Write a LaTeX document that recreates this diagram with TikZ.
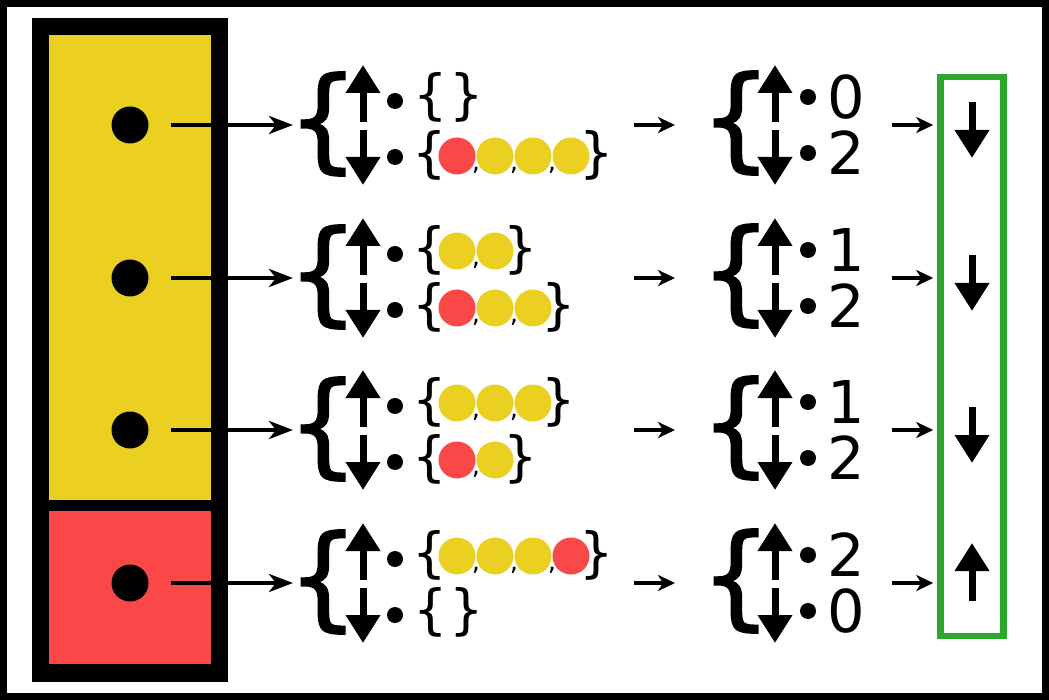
\documentclass[tikz,border=0pt]{standalone}
\usepackage{fontspec}
\setmainfont{DejaVu Sans}
\newfontfamily\bracefont[FakeBold=1.2]{DejaVu Sans}
\usetikzlibrary{arrows.meta}
\definecolor{cyel}{HTML}{EBD022}
\definecolor{cred}{HTML}{FA4848}
\definecolor{cgrn}{HTML}{2BA82B}
\tikzset{
 dot/.style={circle,fill=black,inner sep=0,minimum size=37pt},
 bul/.style={circle,fill=black,inner sep=0,minimum size=16pt},
 ball/.style={circle,fill=#1,inner sep=0,minimum size=37pt},
 brc/.style={inner sep=0,font=\fontsize{54}{54}\selectfont},
 bigbrc/.style={inner sep=0,font=\bracefont\fontsize{113}{113}\selectfont},
 digit/.style={inner sep=0,anchor=west,font=\fontsize{59}{59}\selectfont},
 comma/.style={inner sep=0,anchor=north,font=\fontsize{26}{26}\selectfont},
 longarr/.style={line width=4pt,-{Stealth[length=24pt,width=18pt,inset=7pt]}},
 shortarr/.style={line width=3.3pt,-{Stealth[length=17pt,width=16pt,inset=5pt]}},
 bigarr/.style={line width=7pt,-{Triangle[length=28pt,width=33pt]}},
 gbox/.style={draw=cgrn,line width=6.5pt,minimum width=63pt,minimum height=559pt,inner sep=0},
}
\newcommand\mkset[4]{%
  \node[brc] (#1L) at ({430},{#2-1}) {\{};
  \foreach \c [count=\i] in {#4}{%
    \ifnum\i>1 \node[comma] (#1c\i) at ({457+38*(\i-1)-19},{#2+11}) {,};\fi
  }
  \foreach \c [count=\i] in {#4}{%
    \node[ball=\c] (#1b\i) at ({457+38*(\i-1)},{#2}) {};
  }
  \node[brc] (#1R) at ({457+38*(#3-1)+26},{#2-1}) {\}};
}
\newcommand\mkempty[2]{%
  \node[brc] (#1L) at ({431},{#2-1}) {\{};
  \node[brc] (#1R) at ({467},{#2-1}) {\}};
}
\newcommand\mkrow[6]{% #1 row id, #2 y, #3 up count, #4 down count, #5 dir (1 down, 0 up)
  \node[dot] (d#1) at (130,#2) {};
  \node[bigbrc] (B#1) at (323,{#2-1}) {\{};
  \coordinate (ae#1) at (293,#2);
  \draw[longarr,shorten <=22.5pt] (d#1.east) -- (ae#1);
  \draw[bigarr] (363,{#2-3}) -- (363,{#2-60});
  \draw[bigarr] (363,{#2+5}) -- (363,{#2+60});
  \node[bul] (bu#1) at (395,{#2-24}) {};
  \node[bul] (bd#1) at (395,{#2+32}) {};
  \coordinate (ms#1) at (634,#2);
  \coordinate (me#1) at (675,#2);
  \draw[shortarr] (ms#1) -- (me#1);
  \node[bigbrc] (M#1) at (736,{#2-2}) {\{};
  \draw[bigarr] (775,{#2-3}) -- (775,{#2-60});
  \draw[bigarr] (775,{#2+5}) -- (775,{#2+60});
  \node[bul] (mu#1) at (808,{#2-28}) {};
  \node[bul] (md#1) at (808,{#2+28}) {};
  \node[digit] (nu#1) at (827,{#2-28}) {#3};
  \node[digit] (nd#1) at (827,{#2+28}) {#4};
  \coordinate (rs#1) at (892,#2);
  \draw[shortarr,shorten >=4pt] (rs#1) -- (G.west |- rs#1);
  \ifnum#5=1
    \draw[bigarr] (972,{#2-23}) -- (972,{#2+33});
  \else
    \draw[bigarr] (972,{#2+18}) -- (972,{#2-40});
  \fi
}
\begin{document}
\begin{tikzpicture}[x=1pt,y=-1pt]
\useasboundingbox (0,0) rectangle (1049,700);
\fill[white] (0,0) rectangle (1049,700);
\draw[line width=7pt] (3.5,3.5) rectangle (1045.5,696.5);
\fill[black] (32,18) rectangle (228,682);
\fill[cyel] (49,35) rectangle (211,500);
\fill[cred] (49,511) rectangle (211,664);
\node[gbox] (G) at (972,356.5) {};
% row 1
\mkrow{1}{125}{0}{2}{1}{}
\mkempty{s1u}{98}
\mkset{s1d}{156}{4}{cred,cyel,cyel,cyel}
% row 2
\mkrow{2}{278}{1}{2}{1}{}
\mkset{s2u}{251}{2}{cyel,cyel}
\mkset{s2d}{308}{3}{cred,cyel,cyel}
% row 3
\mkrow{3}{430}{1}{2}{1}{}
\mkset{s3u}{403}{3}{cyel,cyel,cyel}
\mkset{s3d}{460}{2}{cred,cyel}
% row 4
\mkrow{4}{583}{2}{0}{0}{}
\mkset{s4u}{556}{4}{cyel,cyel,cyel,cred}
\mkempty{s4d}{613}
\end{tikzpicture}
\end{document}
